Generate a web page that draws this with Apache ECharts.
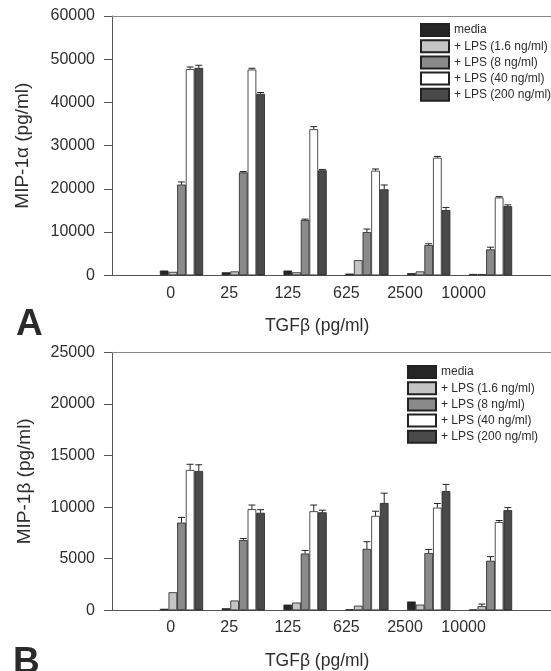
<!DOCTYPE html>
<html>
<head>
<meta charset="utf-8">
<script src="https://cdn.jsdelivr.net/npm/echarts@6/dist/echarts.min.js"></script>
<style>
  html, body { margin: 0; padding: 0; background: #fff; }
  #main { width: 551px; height: 671px; }
</style>
</head>
<body>
<div id="main"></div>
<script>
// TGF-beta doses (x categories) and the tick labels drawn under them
const categories = ['0', '25', '125', '625', '2500', '10000']
const tickLabels = ['', '0', '25', '125', '625', '2500', '10000', '']
const seriesNames = ['media', '+ LPS (1.6 ng/ml)', '+ LPS (8 ng/ml)', '+ LPS (40 ng/ml)', '+ LPS (200 ng/ml)']
const seriesColors = ['#262626', '#c4c4c4', '#8a8a8a', '#ffffff', '#4a4a4a']

// panel A: MIP-1alpha (pg/ml)
const alphaMedia = [1100, 700, 1100, 400, 500, 300]
const alphaLps16 = [800, 900, 700, 3500, 900, 300]
const alphaLps8 = [21000, 23800, 12800, 10000, 7000, 6000]
const alphaLps40 = [47700, 47600, 33800, 24200, 27200, 18000]
const alphaLps200 = [48000, 42000, 24300, 19900, 15100, 16000]
const alphaMediaErr = [0, 0, 0, 0, 0, 0]
const alphaLps16Err = [0, 0, 0, 0, 0, 0]
const alphaLps8Err = [600, 200, 200, 700, 300, 500]
const alphaLps40Err = [500, 300, 600, 400, 300, 200]
const alphaLps200Err = [600, 300, 200, 1000, 600, 300]

// panel B: MIP-1beta (pg/ml)
const betaMedia = [150, 200, 550, 100, 850, 80]
const betaLps16 = [1750, 950, 750, 450, 550, 400]
const betaLps8 = [8500, 6800, 5500, 5950, 5550, 4800]
const betaLps40 = [13600, 9800, 9600, 9150, 9950, 8550]
const betaLps200 = [13500, 9450, 9500, 10400, 11550, 9700]
const betaMediaErr = [0, 0, 0, 0, 0, 0]
const betaLps16Err = [0, 0, 0, 0, 0, 200]
const betaLps8Err = [500, 150, 300, 700, 350, 400]
const betaLps40Err = [550, 400, 600, 450, 400, 150]
const betaLps200Err = [600, 300, 200, 950, 650, 250]

const font = 'Liberation Sans, Arial, sans-serif'
const textColor = '#2e2e2e'
const lineColor = '#555'

const chart = echarts.init(document.getElementById('main'), null, { renderer: 'canvas' })

const option = {
  backgroundColor: '#fff',
  animation: false,
  grid: [],
  xAxis: [],
  yAxis: [],
  legend: [],
  series: [],
  graphic: []
}

function addPanel(p) {
  const g = option.grid.length
  const xi = option.xAxis.length
  const yi = option.yAxis.length
  // frame grid: y axis + bottom/top lines
  option.grid.push({ left: 112, right: 0, top: p.top, height: p.height })
  // bar grid
  option.grid.push({ left: 150.6, width: 370.8, top: p.top, height: p.height })
  // tick label grid
  option.grid.push({ left: 112, width: 410.2, top: p.top, height: p.height })

  option.xAxis.push({
    gridIndex: g, type: 'value', min: 0, max: 1, position: 'bottom',
    axisLine: { show: true, lineStyle: { color: lineColor, width: 1 } },
    axisTick: { show: false }, axisLabel: { show: false }, splitLine: { show: false }
  })
  option.xAxis.push({
    gridIndex: g, type: 'value', min: 0, max: 1, position: 'top',
    axisLine: { show: true, lineStyle: { color: '#888', width: 1 } },
    axisTick: { show: false }, axisLabel: { show: false }, splitLine: { show: false }
  })
  option.xAxis.push({
    gridIndex: g + 1, type: 'category', data: categories, show: false
  })
  option.xAxis.push({
    gridIndex: g + 2, type: 'category', data: tickLabels, boundaryGap: false,
    axisLine: { show: false }, axisTick: { show: false },
    axisLabel: { interval: 0, margin: 10, fontSize: 16, fontFamily: font, color: textColor },
    name: 'TGFβ (pg/ml)', nameLocation: 'middle', nameGap: 42,
    nameTextStyle: { fontSize: 17.5, fontFamily: font, color: textColor }
  })

  option.yAxis.push({
    gridIndex: g, type: 'value', min: 0, max: p.yMax, interval: p.yInterval,
    axisLine: { show: true, lineStyle: { color: lineColor, width: 1 } },
    axisTick: { show: true, inside: false, length: 8, lineStyle: { color: lineColor } },
    axisLabel: { margin: 17, fontSize: 16, fontFamily: font, color: textColor, formatter: v => String(v) },
    splitLine: { show: false },
    name: p.yName, nameLocation: 'middle', nameGap: p.nameGap,
    nameTextStyle: { fontSize: 19, fontFamily: font, color: textColor }
  })
  option.yAxis.push({ gridIndex: g + 1, type: 'value', min: 0, max: p.yMax, show: false })
  option.yAxis.push({ gridIndex: g + 2, type: 'value', min: 0, max: 1, show: false })

  option.legend.push({
    data: seriesNames, orient: 'vertical', left: p.legendLeft, top: p.legendTop,
    padding: 0, itemWidth: 28, itemHeight: 12, itemGap: 2.2, icon: 'rect',
    selectedMode: false,
    textStyle: { fontSize: 12, lineHeight: 13, fontFamily: font, color: textColor }
  })

  p.values.forEach((vals, i) => {
    option.series.push({
      name: seriesNames[i],
      type: 'bar',
      xAxisIndex: xi + 2,
      yAxisIndex: yi + 1,
      data: vals,
      barGap: '0%',
      barCategoryGap: '30%',
      itemStyle: { color: seriesColors[i], borderColor: '#222', borderWidth: 0.8 }
    })
  })

  // error bars (upper only)
  p.errors.forEach((errs, i) => {
    option.series.push({
      type: 'custom',
      xAxisIndex: xi + 2,
      yAxisIndex: yi + 1,
      z: 5,
      silent: true,
      data: p.values[i].map((v, k) => [k, v, errs[k]]),
      renderItem: function (params, api) {
        const err = api.value(2)
        if (!err) return
        const base = api.coord([api.value(0), api.value(1)])
        const tip = api.coord([api.value(0), api.value(1) + err])
        const bw = api.size([1, 0])[0] * 0.7 / 5
        const x = base[0] + (i - 2) * bw
        const half = bw * 0.4
        const style = { stroke: '#222', lineWidth: 1 }
        return {
          type: 'group',
          children: [
            { type: 'line', shape: { x1: x, y1: base[1], x2: x, y2: tip[1] }, style: style },
            { type: 'line', shape: { x1: x - half, y1: tip[1], x2: x + half, y2: tip[1] }, style: style }
          ]
        }
      }
    })
  })

  option.graphic.push({
    type: 'text', left: p.letterLeft, top: p.letterTop,
    style: { text: p.letter, font: 'bold 37px ' + font, fill: '#2a2a2a' }
  })
}

addPanel({
  top: 16, height: 259.3, yMax: 60000, yInterval: 10000,
  yName: 'MIP-1α (pg/ml)', nameGap: 80,
  values: [alphaMedia, alphaLps16, alphaLps8, alphaLps40, alphaLps200],
  errors: [alphaMediaErr, alphaLps16Err, alphaLps8Err, alphaLps40Err, alphaLps200Err],
  legendLeft: 420, legendTop: 23,
  letter: 'A', letterLeft: 16, letterTop: 306
})

addPanel({
  top: 352.3, height: 258, yMax: 25000, yInterval: 5000,
  yName: 'MIP-1β (pg/ml)', nameGap: 78,
  values: [betaMedia, betaLps16, betaLps8, betaLps40, betaLps200],
  errors: [betaMediaErr, betaLps16Err, betaLps8Err, betaLps40Err, betaLps200Err],
  legendLeft: 407, legendTop: 365,
  letter: 'B', letterLeft: 13, letterTop: 644
})

chart.setOption(option)
</script>
</body>
</html>
